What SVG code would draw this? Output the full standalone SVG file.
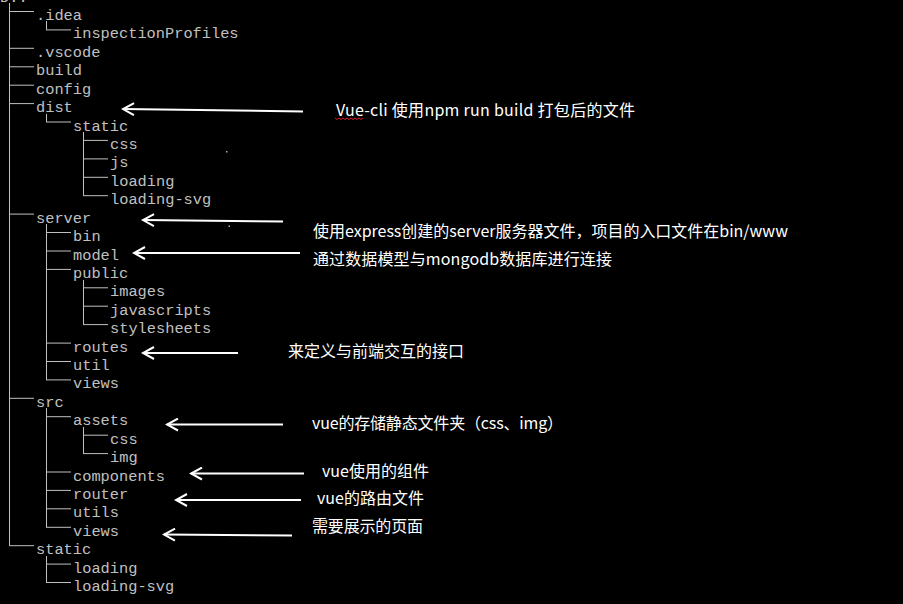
<svg xmlns="http://www.w3.org/2000/svg" width="903" height="604" viewBox="0 0 903 604">
<style>
.t{font-family:"Liberation Mono","DejaVu Sans Mono",monospace;font-size:15.33px;fill:#c0c0c0}
.a{font-family:"Noto Sans CJK SC","Noto Sans",sans-serif;font-size:16px;fill:#ffffff}
.tl{stroke:#c0c0c0;stroke-width:1;fill:none}
.ar{stroke:#ffffff;stroke-width:2;fill:none}
</style>
<defs>
<marker id="ah" markerWidth="14" markerHeight="14" refX="12" refY="7" orient="auto" markerUnits="userSpaceOnUse">
<path d="M1,1 L12,7 L1,13" fill="none" stroke="#ffffff" stroke-width="2"/>
</marker>
</defs>
<rect width="903" height="604" fill="#000000"/>

<g id="tree-lines" class="tl">
<path d="M9.5,3 V545.7"/>
<path d="M9,11.5 H34 M9,48.3 H34 M9,66.8 H34 M9,85.2 H34 M9,103.6 H34 M9,214.1 H34 M9,398.3 H34 M9,545.7 H34"/>
<path d="M46.5,21 V29.9 M46.5,114 V122 M46.5,224 V379.9 M46.5,408 V527.3 M46.5,556 V582.5"/>
<path d="M46,29.9 H71 M46,122 H71 M46,232.5 H71 M46,251 H71 M46,269.4 H71 M46,343.1 H71 M46,361.5 H71 M46,379.9 H71 M46,416.7 H71 M46,472 H71 M46,490.4 H71 M46,508.8 H71 M46,527.3 H71 M46,564.1 H71 M46,582.5 H71"/>
<path d="M83.5,132 V195.7 M83.5,280 V324.6 M83.5,427 V453.6"/>
<path d="M83,140.4 H108 M83,158.9 H108 M83,177.3 H108 M83,195.7 H108 M83,287.8 H108 M83,306.2 H108 M83,324.6 H108 M83,435.2 H108 M83,453.6 H108"/>
</g>

<g id="n-root"><text class="t" x="0" y="1.6">D:.</text></g>
<g id="n-idea"><text class="t" x="36" y="20">.idea</text></g>
<g id="n-inspectionProfiles"><text class="t" x="73" y="38.4">inspectionProfiles</text></g>
<g id="n-vscode"><text class="t" x="36" y="56.8">.vscode</text></g>
<g id="n-build"><text class="t" x="36" y="75.3">build</text></g>
<g id="n-config"><text class="t" x="36" y="93.7">config</text></g>
<g id="n-dist"><text class="t" x="36" y="112.1">dist</text></g>
<g id="n-dist-static"><text class="t" x="73" y="130.5">static</text></g>
<g id="n-dist-css"><text class="t" x="110" y="148.9">css</text></g>
<g id="n-dist-js"><text class="t" x="110" y="167.4">js</text></g>
<g id="n-dist-loading"><text class="t" x="110" y="185.8">loading</text></g>
<g id="n-dist-loading-svg"><text class="t" x="110" y="204.2">loading-svg</text></g>
<g id="n-server"><text class="t" x="36" y="222.6">server</text></g>
<g id="n-bin"><text class="t" x="73" y="241">bin</text></g>
<g id="n-model"><text class="t" x="73" y="259.5">model</text></g>
<g id="n-public"><text class="t" x="73" y="277.9">public</text></g>
<g id="n-images"><text class="t" x="110" y="296.3">images</text></g>
<g id="n-javascripts"><text class="t" x="110" y="314.7">javascripts</text></g>
<g id="n-stylesheets"><text class="t" x="110" y="333.1">stylesheets</text></g>
<g id="n-routes"><text class="t" x="73" y="351.6">routes</text></g>
<g id="n-util"><text class="t" x="73" y="370">util</text></g>
<g id="n-server-views"><text class="t" x="73" y="388.4">views</text></g>
<g id="n-src"><text class="t" x="36" y="406.8">src</text></g>
<g id="n-assets"><text class="t" x="73" y="425.2">assets</text></g>
<g id="n-assets-css"><text class="t" x="110" y="443.7">css</text></g>
<g id="n-assets-img"><text class="t" x="110" y="462.1">img</text></g>
<g id="n-components"><text class="t" x="73" y="480.5">components</text></g>
<g id="n-router"><text class="t" x="73" y="498.9">router</text></g>
<g id="n-utils"><text class="t" x="73" y="517.3">utils</text></g>
<g id="n-src-views"><text class="t" x="73" y="535.8">views</text></g>
<g id="n-static"><text class="t" x="36" y="554.2">static</text></g>
<g id="n-static-loading"><text class="t" x="73" y="572.6">loading</text></g>
<g id="n-static-loading-svg"><text class="t" x="73" y="591">loading-svg</text></g>

<g id="note-dist"><text class="a" x="336" y="116" textLength="299" lengthAdjust="spacing">Vue-cli 使用npm run build 打包后的文件</text>
<path d="M335,118 l2,1.5 l2,-1.5 l2,1.5 l2,-1.5 l2,1.5 l2,-1.5 l2,1.5 l2,-1.5 l2,1.5 l2,-1.5 l2,1.5 l2,-1.5 l2,1.5 l2,-1.5" fill="none" stroke="#e02020" stroke-width="1"/></g>
<g id="note-server"><text class="a" x="313" y="237" textLength="475" lengthAdjust="spacing">使用express创建的server服务器文件，项目的入口文件在bin/www</text></g>
<g id="note-model"><text class="a" x="313" y="265" textLength="299" lengthAdjust="spacing">通过数据模型与mongodb数据库进行连接</text></g>
<g id="note-routes"><text class="a" x="288" y="357" textLength="176" lengthAdjust="spacing">来定义与前端交互的接口</text></g>
<g id="note-assets"><text class="a" x="312" y="429" textLength="251" lengthAdjust="spacing">vue的存储静态文件夹（css、img）</text></g>
<g id="note-components"><text class="a" x="322" y="477" textLength="107" lengthAdjust="spacing">vue使用的组件</text></g>
<g id="note-router"><text class="a" x="317" y="504" textLength="107" lengthAdjust="spacing">vue的路由文件</text></g>
<g id="note-views"><text class="a" x="312" y="532" textLength="111" lengthAdjust="spacing">需要展示的页面</text></g>

<g id="connectors" class="ar">
<path d="M303,111.5 L123,109" marker-end="url(#ah)"/>
<path d="M283,221.5 L143,220" marker-end="url(#ah)"/>
<path d="M300,253 L134,253" marker-end="url(#ah)"/>
<path d="M238,353 L143,353" marker-end="url(#ah)"/>
<path d="M283,424.5 L167,424.5" marker-end="url(#ah)"/>
<path d="M304,473.5 L191,473.5" marker-end="url(#ah)"/>
<path d="M301,500 L176,500" marker-end="url(#ah)"/>
<path d="M292,535.5 L164,534.5" marker-end="url(#ah)"/>
</g>

<g id="specks" fill="#b0b0b0">
<rect x="226" y="151" width="1.5" height="1.5"/>
<rect x="228.5" y="225.5" width="1.5" height="1.5"/>
</g>
</svg>
